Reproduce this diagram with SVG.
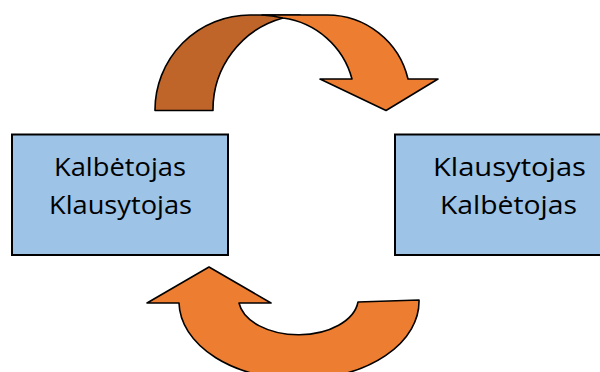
<svg xmlns="http://www.w3.org/2000/svg" width="600" height="372" viewBox="0 0 600 372">
  <style>
    .box { fill: #9DC3E6; stroke: #000; stroke-width: 2; }
    .label { font-family: "Open Sans", Lato, "Liberation Sans", sans-serif; font-size: 25.5px; fill: #000; }
    .front { fill: #ED7D31; stroke: #000; stroke-width: 1.6; stroke-linejoin: round; }
    .back { fill: #BF652A; stroke: #000; stroke-width: 1.6; stroke-linejoin: round; }
  </style>
  <rect width="600" height="372" fill="#fff"/>

  <g id="connectors">
    <!-- upper curved arrow: darker back band, then the front band with its head -->
    <g id="arrow-top">
      <path class="back" d="M155,110.5 A95,95 0 0 1 250,15 L300,15 L283,18 A95,95 0 0 0 213,110.5 Z"/>
      <path class="front" d="M262,15 L327,15 A83,83 0 0 1 408,79 L438,79 L386,110.5 L320,79 L352,79 A83,83 0 0 0 283,18 Q272,15.5 262,15 Z"/>
    </g>
    <!-- lower curved arrow pointing back up to the left box -->
    <g id="arrow-bottom">
      <path class="front" d="M209,267 L271,303 L239,303 A60,37 0 0 0 358,302 L419,300 A120,78 0 0 1 179,303 L147,303 Z"/>
    </g>
  </g>

  <g id="node-left">
    <rect class="box" x="12" y="134.5" width="216" height="120.5"/>
    <text class="label" x="54" y="175.5" textLength="132" lengthAdjust="spacingAndGlyphs">Kalbėtojas</text>
    <text class="label" x="49" y="213.5" textLength="143" lengthAdjust="spacingAndGlyphs">Klausytojas</text>
  </g>

  <g id="node-right">
    <rect class="box" x="395" y="134.5" width="226" height="120.5"/>
    <text class="label" x="433" y="176" textLength="153" lengthAdjust="spacingAndGlyphs">Klausytojas</text>
    <text class="label" x="440" y="213.5" textLength="137" lengthAdjust="spacingAndGlyphs">Kalbėtojas</text>
  </g>
</svg>
